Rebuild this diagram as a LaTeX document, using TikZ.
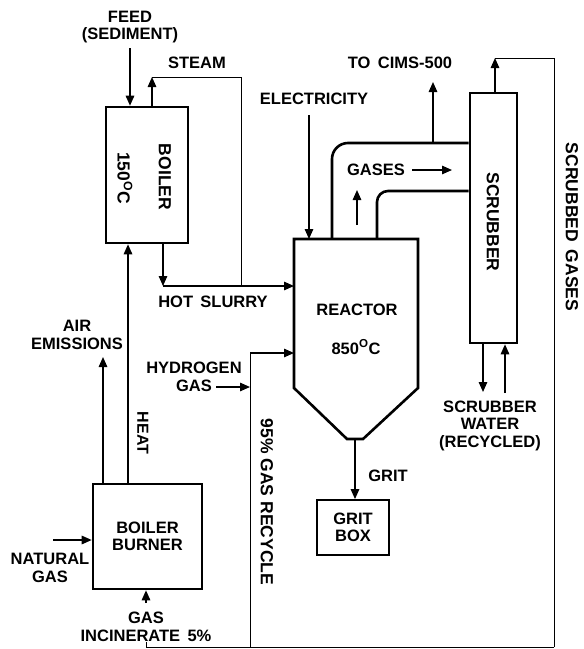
\documentclass[tikz,border=0pt]{standalone}
\usepackage{fontspec}
\setmainfont{Liberation Sans}
\usetikzlibrary{arrows.meta}
\begin{document}
\begin{tikzpicture}[x=1pt,y=-1pt,
  lbl/.style={font=\bfseries\fontsize{16.5}{17.5}\selectfont, align=center, inner sep=0pt},
  rlbl/.style={lbl, font=\bfseries\fontsize{17.5}{18}\selectfont, rotate=-90},
  box/.style={draw, line width=2.6pt, inner sep=0pt},
  flow/.style={line width=1pt},
  arr/.style={line width=1.4pt, -{Triangle[length=10pt,width=8.5pt]}},
  wall/.style={line width=2.6pt}]
\useasboundingbox (0,0) rectangle (584,649);

% boxes
\node[box, minimum width=82pt, minimum height=136pt] (boiler) at (147,175) {};
\node[box, minimum width=109pt, minimum height=105pt] (burner) at (147.5,536.5) {};
\node[box, line width=1.8pt, minimum width=72pt, minimum height=55pt] (gritbox) at (353,527.5) {};
\node[box, minimum width=47pt, minimum height=250pt] (scrubber) at (493.5,218) {};

% reactor
\coordinate (rTL) at (294,239);
\coordinate (rTR) at (418,239);
\coordinate (rBot) at (355,439);
\draw[wall, line join=miter] (rTL) -- (rTR) -- (418,388) -- (363,439) -- (347,439) -- (294,388) -- cycle;

% duct
\coordinate (dO) at (332,239);
\coordinate (dI) at (377,239);
\draw[wall, rounded corners=16pt] (dO) -- (332,143) -- (scrubber.west |- 0,143);
\draw[wall, rounded corners=11pt] (dI) -- (377,191) -- (scrubber.west |- 0,191);

% labels
\node[lbl] (feed) at (130,27) {FEED\\(SEDIMENT)};
\node[lbl] (steam) at (197,63) {STEAM};
\node[lbl] (elec) at (314,99) {ELECTRICITY};
\node[lbl] (cims) at (400,63) {TO\ \,CIMS-500};
\node[lbl] (gases) at (376,170) {GASES};
\node[rlbl] (boilertxt) at (165,177) {BOILER};
\node[rlbl] (boilertmp) at (125,178) {150\textsuperscript{O}C};
\node[lbl] (slurry) at (213,302) {HOT\ \,SLURRY};
\node[lbl] (air) at (77,335) {AIR\\EMISSIONS};
\node[lbl] (hydro) at (194,377) {HYDROGEN\\GAS};
\node[lbl] (reactortxt) at (357,310) {REACTOR};
\node[lbl] (reactortmp) at (356,347) {850\textsuperscript{O}C};
\node[rlbl] (scrubtxt) at (493,222) {SCRUBBER};
\node[rlbl] (scrubgas) at (572,227) {SCRUBBED\ \,GASES};
\node[rlbl] (recycle) at (267,502) {95\% GAS RECYCLE};
\node[rlbl, font=\bfseries\fontsize{16}{18}\selectfont] (heat) at (143,433) {HEAT};
\node[lbl] (grit) at (388,476) {GRIT};
\node[lbl] at (gritbox.center) (grittxt) {GRIT\\BOX};
\node[lbl] (water) at (490,425.5) {SCRUBBER\\WATER\\(RECYCLED)};
\node[lbl] (burnertxt) at (burner.center) {BOILER\\BURNER};
\node[lbl] (natgas) at (50,568) {NATURAL\\GAS};
\node[lbl] (incin) at (146,627) {GAS\\INCINERATE\ \,5\%};

% coordinates for flows
\coordinate (feedA) at (130,48);
\coordinate (st1) at (152,77);
\coordinate (st2) at (241,77);
\coordinate (st3) at (241,286);
\coordinate (hs) at (163,286);
\coordinate (heatx) at (128,0);
\coordinate (airA) at (103,357);
\coordinate (ngA) at (53,540);
\coordinate (hyA) at (216,387);
\coordinate (rc1) at (250,647);
\coordinate (rc2) at (250,353);
\coordinate (incA) at (146,647);
\coordinate (incB) at (146,603);
\coordinate (sg1) at (495,58);
\coordinate (sg2) at (554,58);
\coordinate (sg3) at (554,647);
\coordinate (elA) at (309,115);
\coordinate (ciA) at (433,82);
\coordinate (gaA) at (412,170);
\coordinate (gaB) at (452,170);
\coordinate (upA) at (357,225);
\coordinate (upB) at (357,190);
\coordinate (swA) at (483,392);
\coordinate (swB) at (505,393);

% flows
\draw[arr] (feedA) -- (boiler.north -| feedA);
\draw[arr] (boiler.north -| st1) -- (st1);
\draw[flow] (st1) -- (st2) -- (st3);
\draw[arr] (boiler.south -| hs) -- (hs);
\draw[arr] (hs) -- (rTL |- hs);
\draw[arr] (burner.north -| heatx) -- (boiler.south -| heatx);
\draw[arr] (burner.north -| airA) -- (airA);
\draw[arr] (ngA) -- (burner.west |- ngA);
\draw[arr] (hyA) -- (rc1 |- hyA);
\draw[flow] (sg3) -- (incA) -- ++(0,-5);
\draw[arr] (incB) -- (burner.south -| incB);
\draw[flow] (rc1) -- (rc2);
\draw[arr] (rc2) -- (rTL |- rc2);
\draw[arr] (scrubber.north -| sg1) -- (sg1);
\draw[flow] (sg1) -- (sg2) -- (sg3);
\draw[arr] (elA) -- (rTL -| elA);
\draw[arr] (ciA |- 0,143) -- (ciA);
\draw[arr] (gaA) -- (gaB);
\draw[arr] (upA) -- (upB);
\draw[arr] (rBot) -- (gritbox.north -| rBot);
\draw[arr] (scrubber.south -| swA) -- (swA);
\draw[arr] (swB) -- (scrubber.south -| swB);
\end{tikzpicture}
\end{document}
